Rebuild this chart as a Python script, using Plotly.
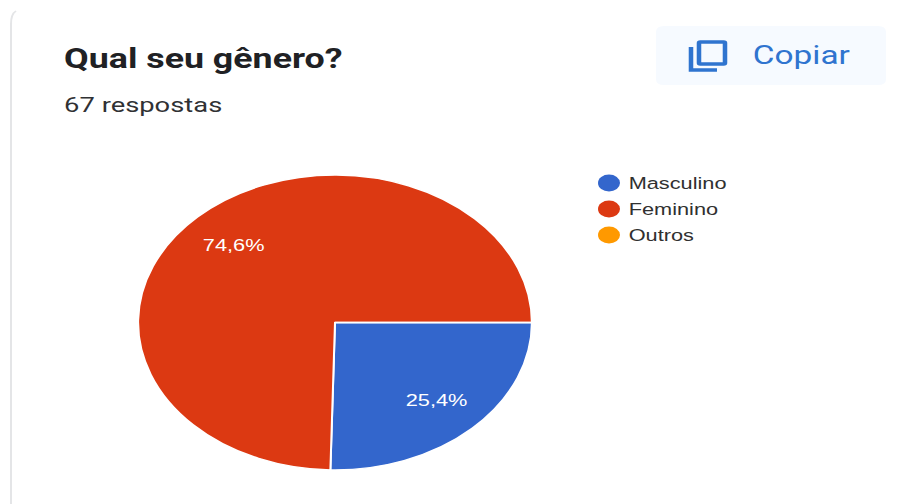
import math
import plotly.graph_objects as go

# Form-response summary: gender question
question = "Qual seu gênero?"
responses = "67 respostas"
button_label = "Copiar"
categories = ["Masculino", "Feminino", "Outros"]
counts = [17, 50, 0]
colors = ["#3366cc", "#dc3912", "#ff9900"]

W, H = 901, 504
BASE_W = 675  # layout width before the horizontal page stretch
STRETCH = W / BASE_W
CX, CY, RX, RY = 335, 322.5, 197, 147.5  # pie centre and radii on the page
LABEL_RADIUS = 0.737


def px(x):
    return x / W


def py(y):
    return 1 - y / H


def rounded_rect(x0, y0, x1, y1, r):
    rx, ry = r * STRETCH, r
    pts = [
        f"M {px(x0 + rx)} {py(y0)}", f"L {px(x1 - rx)} {py(y0)}",
        f"Q {px(x1)} {py(y0)} {px(x1)} {py(y0 + ry)}", f"L {px(x1)} {py(y1 - ry)}",
        f"Q {px(x1)} {py(y1)} {px(x1 - rx)} {py(y1)}", f"L {px(x0 + rx)} {py(y1)}",
        f"Q {px(x0)} {py(y1)} {px(x0)} {py(y1 - ry)}", f"L {px(x0)} {py(y0 + ry)}",
        f"Q {px(x0)} {py(y0)} {px(x0 + rx)} {py(y0)} Z",
    ]
    return " ".join(pts)


shapes = [
    # Card edge
    dict(type="path", xref="paper", yref="paper", line=dict(color="#e4e5e7", width=1.5),
         path=f"M {px(16)} {py(11)} Q {px(11)} {py(14)} {px(11)} {py(24)} L {px(11)} {py(504)}"),
    # Copy button background
    dict(type="path", xref="paper", yref="paper", fillcolor="#f6faff", line=dict(width=0),
         path=rounded_rect(656, 26, 886, 85, 6)),
    # Copy icon: front square and back corner
    dict(type="path", xref="paper", yref="paper", line=dict(color="#2f74cf", width=3.4),
         path=rounded_rect(699, 42, 725, 64, 1)),
    dict(type="path", xref="paper", yref="paper", line=dict(color="#2f74cf", width=3.4),
         path=f"M {px(691)} {py(47)} L {px(691)} {py(70)} L {px(717)} {py(70)}"),
]

annotations = [
    dict(text=f"<b>{question}</b>", x=px(61), y=py(59), xref="paper", yref="paper",
         xanchor="left", yanchor="middle", showarrow=False,
         font=dict(family="Roboto", size=26.8, color="#202124")),
    dict(text=responses, x=px(61), y=py(105), xref="paper", yref="paper",
         xanchor="left", yanchor="middle", showarrow=False,
         font=dict(family="Roboto", size=20.5, color="#303134")),
    dict(text=button_label, x=px(750), y=py(55), xref="paper", yref="paper",
         xanchor="left", yanchor="middle", showarrow=False,
         font=dict(family="Roboto", size=25, color="#2f74cf")),
]

# Legend entries, including the category with no responses
for name, color, y in zip(categories, colors, [183, 209, 235]):
    shapes.append(dict(type="circle", xref="paper", yref="paper", fillcolor=color,
                       line=dict(width=0), x0=px(598), x1=px(620), y0=py(y + 8.5), y1=py(y - 8.5)))
    annotations.append(dict(text=name, x=px(626), y=py(y), xref="paper", yref="paper",
                            xanchor="left", yanchor="middle", showarrow=False,
                            font=dict(family="Liberation Sans", size=16.3, color="#303030")))

# Percentage labels sit at a fixed fraction of the radius, on each slice's mid-angle
total = sum(counts)
start = 90.0
for value in counts:
    share = value / total
    if share > 0:
        mid = math.radians(start + share * 180)
        annotations.append(dict(
            text=f"{share * 100:.1f}%".replace(".", ","),
            x=px(CX + LABEL_RADIUS * RX * math.sin(mid)),
            y=py(CY - LABEL_RADIUS * RY * math.cos(mid)),
            xref="paper", yref="paper", xanchor="center", yanchor="middle", showarrow=False,
            font=dict(family="Liberation Sans", size=16.3, color="white"),
        ))
    start += share * 360

fig = go.Figure(go.Pie(
    labels=categories,
    values=counts,
    sort=False,
    direction="clockwise",
    rotation=90,
    marker=dict(colors=colors, line=dict(color="white", width=1.5)),
    textinfo="none",
    showlegend=False,
    hoverinfo="label+percent",
    domain=dict(x=[(CX - RX) / W, (CX + RX) / W], y=[py(CY + RY), py(CY - RY)]),
))

fig.update_layout(
    width=BASE_W,
    height=H,
    margin=dict(l=0, r=0, t=0, b=0),
    paper_bgcolor="white",
    separators=", ",
    shapes=shapes,
    annotations=annotations,
)

stretch_page = f"""
var gd = document.getElementById('{{plot_id}}');
gd.style.width = '{BASE_W}px';
gd.style.transformOrigin = '0 0';
gd.style.transform = 'scale({STRETCH:.4f}, 1)';
document.documentElement.style.overflow = 'hidden';
document.body.style.overflow = 'hidden';
"""

fig.write_html("out.html", post_script=stretch_page, config=dict(displayModeBar=False))
